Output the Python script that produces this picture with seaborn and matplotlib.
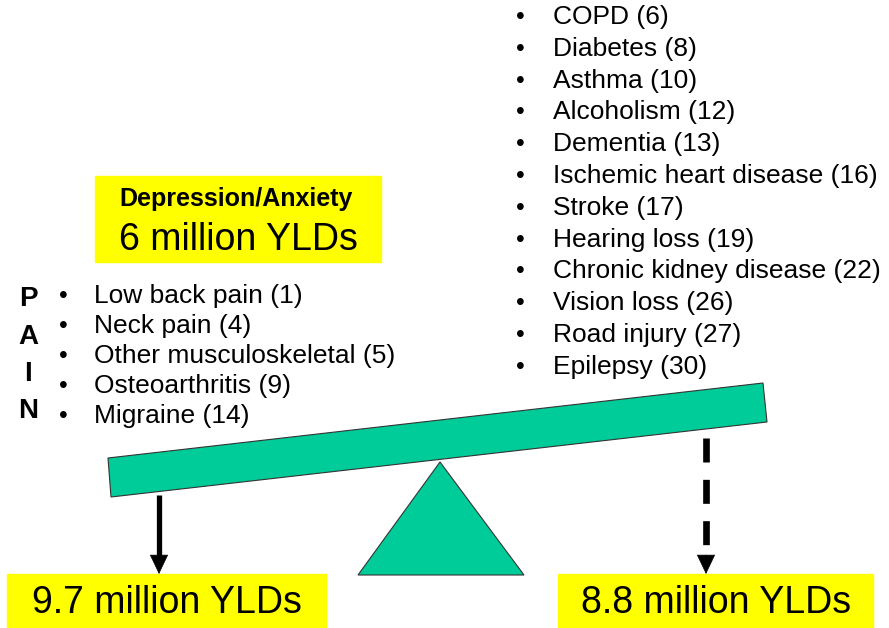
import matplotlib.pyplot as plt
import seaborn as sns
from matplotlib.patches import Polygon, Rectangle

# list contents
pain_letters = ["P", "A", "I", "N"]
pain_items = ["Low back pain (1)", "Neck pain (4)", "Other musculoskeletal (5)",
              "Osteoarthritis (9)", "Migraine (14)"]
other_items = ["COPD (6)", "Diabetes (8)", "Asthma (10)", "Alcoholism (12)",
               "Dementia (13)", "Ischemic heart disease (16)", "Stroke (17)",
               "Hearing loss (19)", "Chronic kidney disease (22)", "Vision loss (26)",
               "Road injury (27)", "Epilepsy (30)"]
depression_title = "Depression/Anxiety"
depression_ylds = "6 million YLDs"
left_total = "9.7 million YLDs"
right_total = "8.8 million YLDs"

sns.set_theme(style="white")
plt.rcParams["font.family"] = ["Liberation Sans", "DejaVu Sans"]
plt.rcParams["text.color"] = "black"

GREEN = "#00CC99"
YELLOW = "#FFFF00"

fig = plt.figure(figsize=(8.89, 6.28), dpi=100)
ax = fig.add_axes([0, 0, 1, 1])
ax.set_xlim(0, 889)
ax.set_ylim(628, 0)
ax.axis("off")

# Depression box
ax.add_patch(Rectangle((95, 176), 286, 86, color=YELLOW, zorder=1))
ax.text(236, 199, depression_title, fontsize=18, fontweight="bold", ha="center", va="center", zorder=2)
ax.text(238, 240, depression_ylds, fontsize=27, ha="center", va="center", zorder=2)

# PAIN side
for i, letter in enumerate(pain_letters):
    ax.text(28, 299 + i * 37.5, letter, fontsize=20, fontweight="bold", ha="center", va="center")
for i, item in enumerate(pain_items):
    y = 296 + i * 30
    ax.text(63, y, "•", fontsize=18, ha="center", va="center")
    ax.text(94, y, item, fontsize=19, ha="left", va="center")

# other conditions
for i, item in enumerate(other_items):
    y = 17 + i * 31.8
    ax.text(520, y, "•", fontsize=18, ha="center", va="center")
    ax.text(553, y, item, fontsize=19, ha="left", va="center")

# seesaw
ax.add_patch(Polygon([(108, 458), (763, 383), (767, 422), (111, 497)],
                     closed=True, facecolor=GREEN, edgecolor="#333333", lw=0.8, zorder=3))
ax.add_patch(Polygon([(440, 462), (358, 575), (524, 575)],
                     closed=True, facecolor=GREEN, edgecolor="#333333", lw=0.8, zorder=2))

# arrows: shafts as lines, heads as short annotate arrows
head = dict(arrowstyle="-|>,head_length=1.3,head_width=0.62", lw=0.5, color="black",
            mutation_scale=10, shrinkA=0, shrinkB=0)
ax.plot([159, 159], [495, 560], color="black", lw=3.8, solid_capstyle="butt")
ax.annotate("", xy=(159, 574), xytext=(159, 556), arrowprops=head)
ax.plot([706, 706], [438, 547], color="black", lw=4.8, linestyle=(0, (3.6, 2.6)),
        dash_capstyle="butt")
ax.annotate("", xy=(706, 574), xytext=(706, 555), arrowprops=head)

# totals
ax.add_patch(Rectangle((7, 574), 319, 54, color=YELLOW, zorder=1))
ax.text(167, 603, left_total, fontsize=27, ha="center", va="center", zorder=2)
ax.add_patch(Rectangle((558, 574), 315, 54, color=YELLOW, zorder=1))
ax.text(716, 603, right_total, fontsize=27, ha="center", va="center", zorder=2)

fig.savefig("out.png", dpi=100, facecolor="white")
